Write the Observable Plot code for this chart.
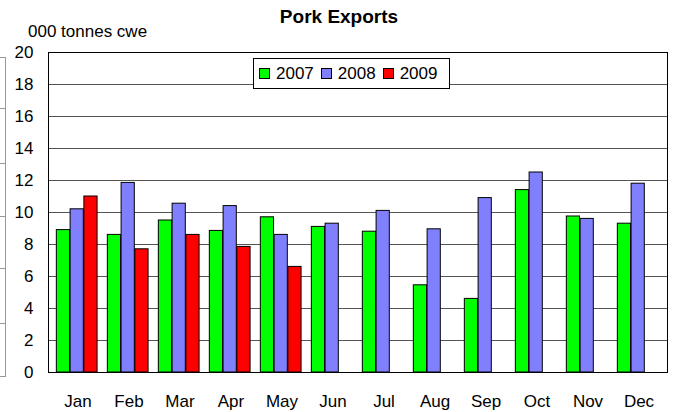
<!DOCTYPE html>
<html>
<head>
<meta charset="utf-8">
<script src="https://cdn.jsdelivr.net/npm/d3@7"></script>
<script src="https://cdn.jsdelivr.net/npm/@observablehq/plot@0.6"></script>
<style>
  body { margin: 0; background: #fff; }
  #wrap { position: relative; width: 673px; height: 412px; font-family: "Liberation Sans", Arial, sans-serif; color: #000; overflow: hidden; }
  #wrap svg { position: absolute; left: 0; top: 0; }
  .abs { position: absolute; white-space: nowrap; }
  #title { left: 239px; top: 6px; width: 200px; text-align: center; font-weight: bold; font-size: 19px; line-height: normal; }
  #ylab { left: 28px; top: 22px; font-size: 17px; line-height: normal; }
  #legend { left: 253px; top: 58px; width: 197px; height: 31px; background: #fff; border: 1px solid #000; display: flex; align-items: center; font-size: 17px; box-sizing: border-box; padding-left: 5px; }
  #legend .item { display: flex; align-items: center; margin-right: 7px; }
  #legend .sw { width: 11px; height: 11px; border: 1px solid #000; margin-right: 6px; box-sizing: border-box; }
  .frag { position: absolute; background: #999; }
</style>
</head>
<body>
<div id="wrap">
  <div id="chart"></div>
  <div id="title" class="abs">Pork Exports</div>
  <div id="ylab" class="abs">000 tonnes cwe</div>
  <div id="legend" class="abs"></div>
</div>
<script>
const months = ["Jan","Feb","Mar","Apr","May","Jun","Jul","Aug","Sep","Oct","Nov","Dec"];
const years = ["2007","2008","2009"];
const v2007 = [8.9, 8.6, 9.5, 8.85, 9.7, 9.1, 8.8, 5.45, 4.6, 11.4, 9.75, 9.3];
const v2008 = [10.2, 11.85, 10.55, 10.4, 8.6, 9.3, 10.1, 8.95, 10.9, 12.5, 9.6, 11.8];
const v2009 = [11.0, 7.7, 8.6, 7.85, 6.6, null, null, null, null, null, null, null];
const colors = ["#00ff00", "#8080ff", "#ff0000"];
const yTicks = [0, 2, 4, 6, 8, 10, 12, 14, 16, 18, 20];

const W = 673, H = 412, mL = 48, mR = 6, mT = 52, mB = 40;
const bandW = (W - mL - mR) / months.length;
const barW = bandW * 0.267;
const inset = (bandW - barW) / 2;

const series = [v2007, v2008, v2009];
const rows = series.map((vals, i) =>
  months.map((m, j) => ({month: m, year: years[i], value: vals[j]})).filter(d => d.value != null)
);

const barMarks = rows.map((data, i) =>
  Plot.barY(data, {
    x: "month", y: "value",
    fill: colors[i], stroke: "#000", strokeWidth: 1,
    insetLeft: inset, insetRight: inset,
    dx: (i - 1) * barW - 0.8
  })
);

const chart = Plot.plot({
  width: W, height: H,
  marginLeft: mL, marginRight: mR, marginTop: mT, marginBottom: mB,
  style: {fontFamily: '"Liberation Sans", Arial, sans-serif', fontSize: "17px", color: "#000", background: "transparent", overflow: "visible"},
  x: {domain: months, padding: 0, label: null, tickSize: 0, tickPadding: 22},
  y: {domain: [0, 20], ticks: yTicks, label: null, tickSize: 0, tickPadding: 15},
  marks: [
    Plot.ruleY(yTicks, {stroke: "#555", strokeWidth: 1}),
    ...barMarks,
    Plot.frame({stroke: "#000", strokeWidth: 1})
  ]
});
document.getElementById("chart").appendChild(chart);

const legend = document.getElementById("legend");
years.forEach((y, i) => {
  const it = document.createElement("div");
  it.className = "item";
  it.innerHTML = `<div class="sw" style="background:${colors[i]}"></div><span>${y}</span>`;
  legend.appendChild(it);
});

// fragment of a neighbouring chart cut off at the left edge
const wrap = document.getElementById("wrap");
const fragY = [57, 108, 163, 216, 268, 323, 376];
fragY.forEach(y => {
  const d = document.createElement("div");
  d.className = "frag";
  d.style.cssText = `left:0;top:${y}px;width:5px;height:1px;`;
  wrap.appendChild(d);
});
const v = document.createElement("div");
v.className = "frag";
v.style.cssText = `left:5px;top:57px;width:1px;height:320px;`;
wrap.appendChild(v);
</script>
</body>
</html>
